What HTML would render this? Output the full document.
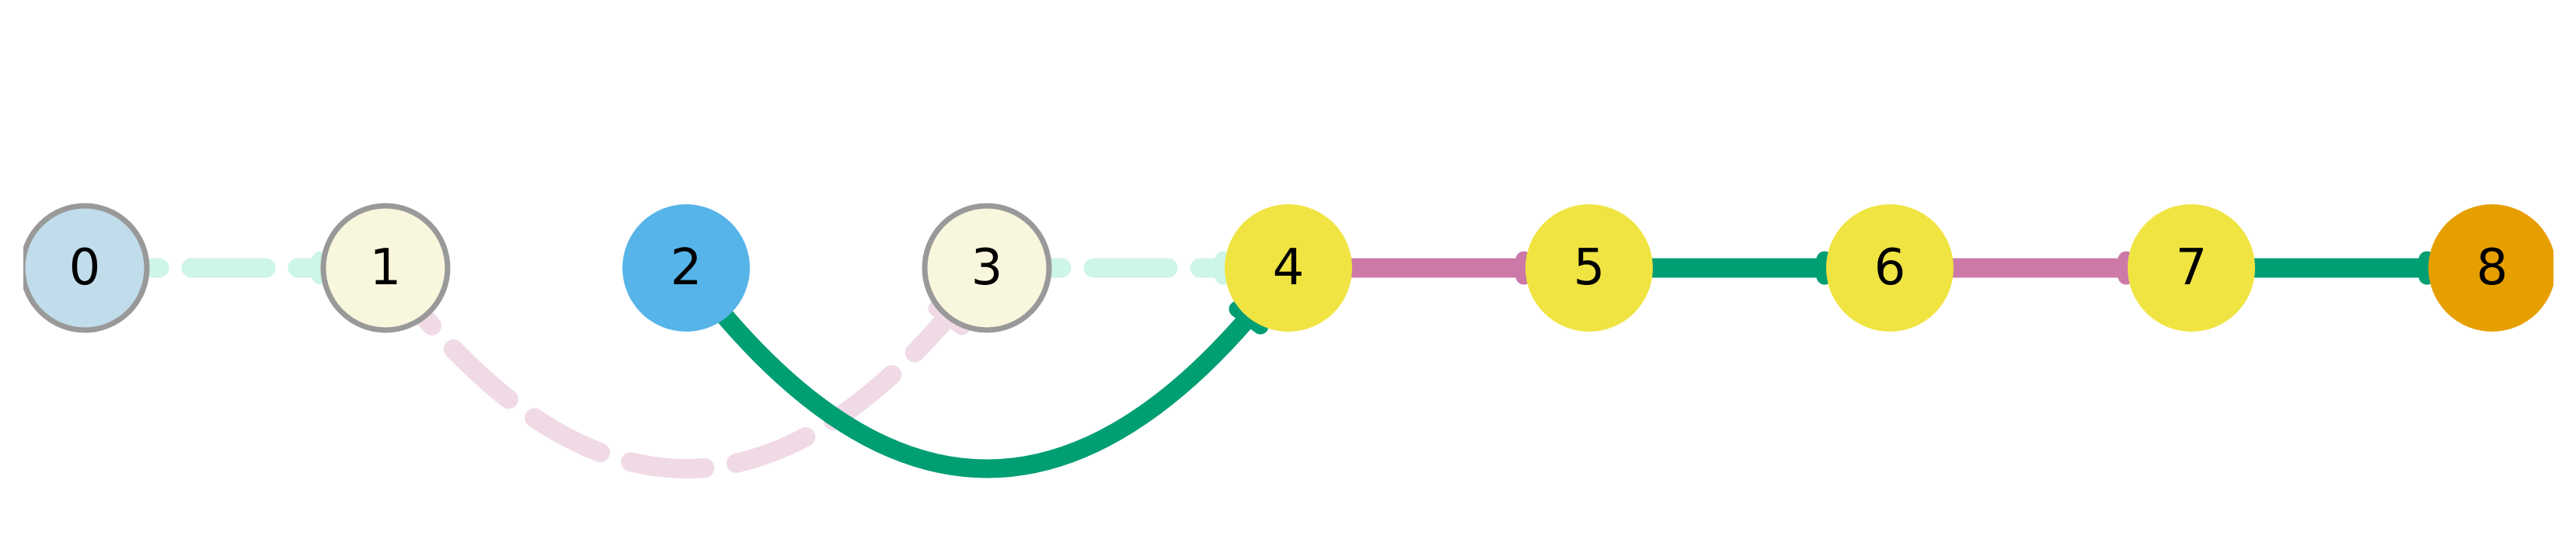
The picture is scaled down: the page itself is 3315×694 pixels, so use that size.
<!DOCTYPE html>
<html><head><meta charset="utf-8"><style>
html,body{margin:0;padding:0;background:#fff;}
svg{display:block;}
text{font-family:"DejaVu Sans","Liberation Sans",sans-serif;font-size:64px;fill:#000;text-anchor:middle;dominant-baseline:central;}
</style></head><body>
<svg width="3315" height="694" viewBox="0 0 3315 694" xmlns="http://www.w3.org/2000/svg">
<defs><clipPath id="c"><rect x="30" y="0" width="3256" height="694"/></clipPath></defs>
<g clip-path="url(#c)">
<path d="M495,345 Q883,862 1270,345" fill="none" stroke="#f0dae6" stroke-width="25" stroke-linecap="round" stroke-dasharray="96 41"/>
<line x1="1205" y1="397" x2="1238" y2="421" stroke="#f0dae6" stroke-width="21" stroke-linecap="round"/>
<line x1="109" y1="345" x2="496" y2="345" stroke="#cdf5e8" stroke-width="25" stroke-linecap="round" stroke-dasharray="96 41"/>
<line x1="412" y1="334" x2="412" y2="356" stroke="#cdf5e8" stroke-width="21" stroke-linecap="round"/>
<line x1="1270" y1="345" x2="1658" y2="345" stroke="#cdf5e8" stroke-width="25" stroke-linecap="round" stroke-dasharray="96 41"/>
<line x1="1574" y1="334" x2="1574" y2="356" stroke="#cdf5e8" stroke-width="21" stroke-linecap="round"/>
<path d="M883,345 Q1270,862 1658,345" fill="none" stroke="#009e73" stroke-width="24"/>
<line x1="1592" y1="398" x2="1622" y2="420" stroke="#009e73" stroke-width="21" stroke-linecap="round"/>
<line x1="1658" y1="345" x2="2045" y2="345" stroke="#cc79a7" stroke-width="25"/>
<line x1="1961" y1="334" x2="1961" y2="356" stroke="#cc79a7" stroke-width="21" stroke-linecap="round"/>
<line x1="2045" y1="345" x2="2432" y2="345" stroke="#009e73" stroke-width="25"/>
<line x1="2348" y1="334" x2="2348" y2="356" stroke="#009e73" stroke-width="21" stroke-linecap="round"/>
<line x1="2432" y1="345" x2="2820" y2="345" stroke="#cc79a7" stroke-width="25"/>
<line x1="2736" y1="334" x2="2736" y2="356" stroke="#cc79a7" stroke-width="21" stroke-linecap="round"/>
<line x1="2820" y1="345" x2="3207" y2="345" stroke="#009e73" stroke-width="25"/>
<line x1="3123" y1="334" x2="3123" y2="356" stroke="#009e73" stroke-width="21" stroke-linecap="round"/>
<circle cx="109" cy="345" r="80" fill="#c1dcea" stroke="#999" stroke-width="7"/>
<circle cx="496" cy="345" r="80" fill="#f8f6dc" stroke="#999" stroke-width="7"/>
<circle cx="883" cy="345" r="82" fill="#56b4e9"/>
<circle cx="1270" cy="345" r="80" fill="#f8f6dc" stroke="#999" stroke-width="7"/>
<circle cx="1658" cy="345" r="82" fill="#f0e442"/>
<circle cx="2045" cy="345" r="82" fill="#f0e442"/>
<circle cx="2432" cy="345" r="82" fill="#f0e442"/>
<circle cx="2820" cy="345" r="82" fill="#f0e442"/>
<circle cx="3207" cy="345" r="82" fill="#e69f00"/>
</g>
<text x="109" y="345">0</text>
<text x="496" y="345">1</text>
<text x="883" y="345">2</text>
<text x="1270" y="345">3</text>
<text x="1658" y="345">4</text>
<text x="2045" y="345">5</text>
<text x="2432" y="345">6</text>
<text x="2820" y="345">7</text>
<text x="3207" y="345">8</text>
</svg>
</body></html>
